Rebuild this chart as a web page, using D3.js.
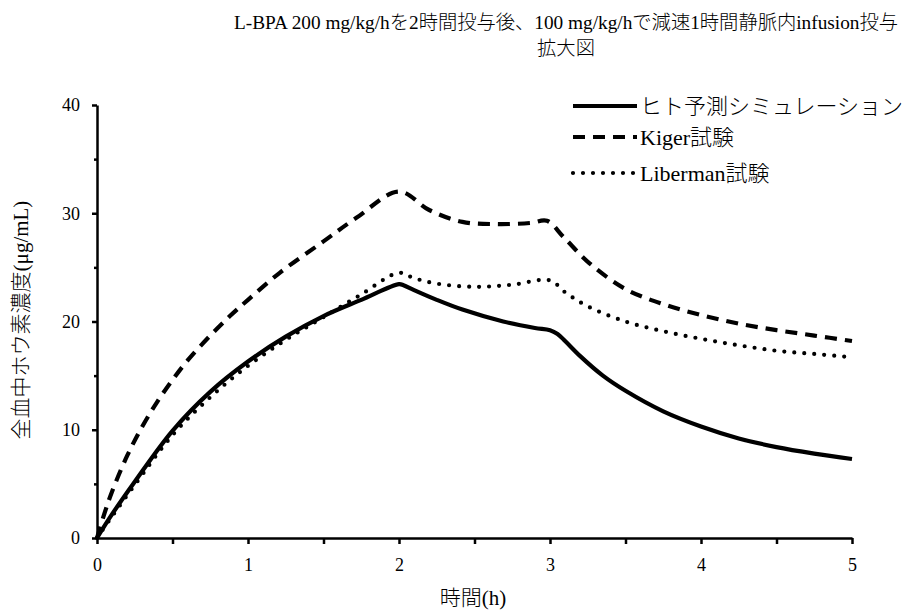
<!DOCTYPE html>
<html><head><meta charset="utf-8">
<script src="https://cdn.jsdelivr.net/npm/d3@7/dist/d3.min.js"></script>
<style>
body{margin:0;background:#fff;}
text{font-family:"Liberation Serif","Noto Sans CJK JP",serif;fill:#000;font-weight:300;}
</style></head><body>
<svg id="c" width="913" height="615"></svg>
<script>
const titleLines = ["L-BPA 200 mg/kg/hを2時間投与後、100 mg/kg/hで減速1時間静脈内infusion投与", "拡大図"];
const xLabel = "時間(h)";
const yLabel = "全血中ホウ素濃度(μg/mL)";
const xTicks = [0,1,2,3,4,5];
const yTicks = [0,10,20,30,40];
const seriesNames = ["ヒト予測シミュレーション","Kiger試験","Liberman試験"];

const simT = [0,0.1,0.25,0.5,0.75,1,1.25,1.5,1.75,2,2.03,2.1,2.25,2.42,2.69,2.9,3,3.05,3.1,3.2,3.35,3.5,3.75,4,4.25,4.5,4.75,5];
const simV = [0,2.2,5.2,9.9,13.5,16.3,18.6,20.5,22.0,23.45,23.35,22.9,22.0,21.1,20.0,19.4,19.2,18.85,18.2,16.8,15.0,13.6,11.7,10.3,9.2,8.4,7.8,7.3];

const kigT = [0,0.05,0.1,0.2,0.3,0.4,0.5,0.6,0.75,0.88,1,1.21,1.5,1.72,2,2.2,2.42,2.65,2.87,2.98,3.09,3.26,3.5,3.75,4,4.25,4.5,4.75,5];
const kigV = [0,2.3,4.3,7.6,10.3,12.6,14.6,16.4,18.7,20.5,22.0,24.5,27.4,29.6,32.0,30.3,29.2,29.0,29.1,29.3,27.8,25.4,23.0,21.6,20.6,19.8,19.2,18.7,18.2];

const libT = [0,0.1,0.25,0.5,0.75,1,1.25,1.5,1.75,2,2.1,2.25,2.5,2.75,3,3.1,3.25,3.5,3.75,4,4.25,4.5,4.75,5];
const libV = [0,2.0,4.9,9.5,13.0,15.9,18.3,20.4,22.5,24.5,24.0,23.5,23.2,23.4,23.8,22.7,21.4,20.0,19.1,18.4,17.8,17.3,17.0,16.7];

const svg = d3.select("#c");
const x = d3.scaleLinear().domain([0,5]).range([97,852]);
const y = d3.scaleLinear().domain([0,40]).range([538,105]);

// title
svg.selectAll("text.title").data(titleLines).enter().append("text")
  .attr("class","title").attr("x",566).attr("y",(d,i)=>29+i*26)
  .attr("text-anchor","middle").attr("font-size",19.3).text(d=>d);

// lines
const line = d3.line().x(d=>x(d[0])).y(d=>y(d[1])).curve(d3.curveCatmullRom.alpha(0.5));
const series = [
  {t:simT,v:simV,dash:null,cap:"butt"},
  {t:kigT,v:kigV,dash:"12,8",cap:"butt"},
  {t:libT,v:libV,dash:"0,10",cap:"round"}
];
series.forEach(s=>{
  svg.append("path").datum(s.t.map((t,i)=>[t,s.v[i]]))
    .attr("d",line).attr("fill","none").attr("stroke","#000")
    .attr("stroke-width",4.2).attr("stroke-dasharray",s.dash)
    .attr("stroke-linecap",s.cap).attr("stroke-linejoin","round");
});

// axes
const gx = svg.append("g").attr("transform","translate(0,538)");
gx.call(d3.axisBottom(x).tickValues(d3.range(0,5.01,0.5)).tickSize(6).tickSizeOuter(0).tickFormat(""));
gx.selectAll("path").attr("stroke-width",2.5);
gx.selectAll("line").attr("stroke-width",2.5);
const gxl = svg.append("g").attr("transform","translate(0,538)");
gxl.call(d3.axisBottom(x).tickValues(xTicks).tickSize(0).tickPadding(20).tickFormat(d3.format("d")));
gxl.select("path").remove();
gxl.selectAll("text").attr("font-size",18).attr("font-family","Liberation Serif");

const gy = svg.append("g").attr("transform","translate(97,0)");
gy.call(d3.axisLeft(y).tickValues(yTicks).tickSize(5).tickSizeOuter(0).tickPadding(12).tickFormat(d3.format("d")));
gy.selectAll("path").attr("stroke-width",2.5);
gy.selectAll("line").attr("stroke-width",2.5);
gy.selectAll("text").attr("font-size",18).attr("font-family","Liberation Serif");
const gym = svg.append("g").attr("transform","translate(97,0)");
gym.call(d3.axisLeft(y).tickValues([5,15,25,35]).tickSize(3).tickFormat(""));
gym.select("path").remove();
gym.selectAll("line").attr("stroke-width",2.5);

// axis labels
svg.append("text").attr("x",473).attr("y",605).attr("text-anchor","middle").attr("font-size",21).text(xLabel);
svg.append("text").attr("transform","translate(28,320) rotate(-90)").attr("text-anchor","middle").attr("font-size",21).text(yLabel);

// legend
const legY = [106,137,173];
seriesNames.forEach((n,i)=>{
  svg.append("line").attr("x1",573).attr("x2",637).attr("y1",legY[i]).attr("y2",legY[i])
    .attr("stroke","#000").attr("stroke-width",4.2)
    .attr("stroke-dasharray",series[i].dash).attr("stroke-linecap",series[i].cap);
  svg.append("text").attr("x",640).attr("y",legY[i]).attr("dy","0.35em")
    .attr("font-size",22).text(n);
});
</script></body></html>
